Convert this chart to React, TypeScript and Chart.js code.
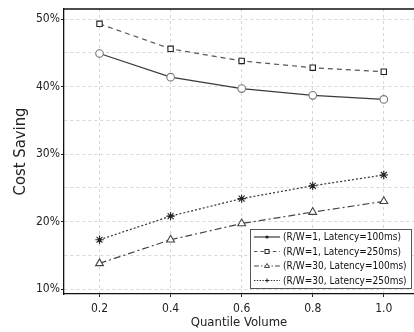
import React, { useEffect, useRef } from "react";
import { Chart, registerables } from "chart.js";

Chart.register(...registerables);

const xValues = [0.2, 0.4, 0.6, 0.8, 1.0];
const seriesLabels = [
  "(R/W=1, Latency=100ms)",
  "(R/W=1, Latency=250ms)",
  "(R/W=30, Latency=100ms)",
  "(R/W=30, Latency=250ms)",
];
const rw1Lat100 = [44.9, 41.4, 39.7, 38.7, 38.1];
const rw1Lat250 = [49.3, 45.6, 43.8, 42.8, 42.2];
const rw30Lat100 = [13.8, 17.3, 19.7, 21.4, 23.0];
const rw30Lat250 = [17.3, 20.8, 23.4, 25.3, 26.9];
const yTickValues = [10, 20, 30, 40, 50];

const FONT = "'DejaVu Sans Condensed', 'DejaVu Sans', sans-serif";

const styles = [
  { color: "#3a3a3a", dash: [] as number[], point: "circle", pColor: "#777", r: 3.8 },
  { color: "#555555", dash: [5, 4], point: "rect", pColor: "#222", r: 3.8 },
  { color: "#444444", dash: [7, 3, 2, 3], point: "triangle", pColor: "#444", r: 4.5 },
  { color: "#333333", dash: [2, 2], point: "star", pColor: "#222", r: 4.2 },
];

const frameAndLegend = {
  id: "frameAndLegend",
  afterDraw(chart: any) {
    const ctx = chart.ctx;
    const a = chart.chartArea;
    ctx.save();
    ctx.strokeStyle = "#111";
    ctx.lineWidth = 1.3;
    ctx.beginPath();
    ctx.moveTo(a.left, a.top);
    ctx.lineTo(a.right, a.top);
    ctx.stroke();

    // legend
    const boxL = 250, boxR = 411, boxT = 229, rowH = 14.5;
    const boxB = boxT + rowH * 4 + 1;
    ctx.fillStyle = "#fff";
    ctx.fillRect(boxL, boxT, boxR - boxL, boxB - boxT);
    ctx.strokeStyle = "#555";
    ctx.lineWidth = 1;
    ctx.strokeRect(boxL + 0.5, boxT + 0.5, boxR - boxL, boxB - boxT);
    chart.data.datasets.forEach((ds: any, i: number) => {
      const y = boxT + 8 + i * rowH;
      const st = styles[i];
      ctx.strokeStyle = st.color;
      ctx.lineWidth = 1.2;
      ctx.setLineDash(st.dash.length ? st.dash.map((d: number) => Math.max(1, d * 0.7)) : []);
      ctx.beginPath();
      ctx.moveTo(254, y);
      ctx.lineTo(280, y);
      ctx.stroke();
      ctx.setLineDash([]);
      ctx.fillStyle = "#fff";
      ctx.strokeStyle = st.pColor;
      ctx.lineWidth = 1;
      const cx = 267;
      if (st.point === "circle") {
        ctx.fillStyle = "#222";
        ctx.beginPath();
        ctx.arc(cx, y, 1.6, 0, Math.PI * 2);
        ctx.fill();
      } else if (st.point === "rect") {
        ctx.fillRect(cx - 2, y - 2, 4, 4);
        ctx.strokeRect(cx - 2, y - 2, 4, 4);
      } else if (st.point === "triangle") {
        ctx.beginPath();
        ctx.moveTo(cx, y - 2.5);
        ctx.lineTo(cx + 2.5, y + 1.5);
        ctx.lineTo(cx - 2.5, y + 1.5);
        ctx.closePath();
        ctx.fill();
        ctx.stroke();
      } else {
        ctx.beginPath();
        ctx.moveTo(cx - 2, y);
        ctx.lineTo(cx + 2, y);
        ctx.moveTo(cx, y - 2);
        ctx.lineTo(cx, y + 2);
        ctx.stroke();
      }
      ctx.fillStyle = "#111";
      ctx.font = "10px " + FONT;
      ctx.textBaseline = "middle";
      ctx.textAlign = "left";
      ctx.fillText(ds.label, 283, y + 0.5);
    });
    ctx.restore();
  },
};

export default function App() {
  const ref = useRef<HTMLCanvasElement | null>(null);
  useEffect(() => {
    document.body.style.margin = "0";
    const seriesData = [rw1Lat100, rw1Lat250, rw30Lat100, rw30Lat250];
    const chart = new Chart(ref.current as HTMLCanvasElement, {
      type: "line",
      data: {
        datasets: seriesData.map((vals, i) => ({
          label: seriesLabels[i],
          data: vals.map((v, j) => ({ x: xValues[j], y: v })),
          borderColor: styles[i].color,
          borderWidth: 1.2,
          borderDash: styles[i].dash,
          pointStyle: styles[i].point as any,
          pointRadius: styles[i].r,
          pointBorderColor: styles[i].pColor,
          pointBackgroundColor: "#fff",
          pointBorderWidth: 1.1,
          fill: false,
          tension: 0,
        })),
      },
      options: {
        animation: false,
        responsive: false,
        maintainAspectRatio: false,
        layout: { autoPadding: false, padding: { top: 9, right: 0, left: 0, bottom: 0 } },
        plugins: { legend: { display: false }, tooltip: { enabled: false } },
        scales: {
          x: {
            type: "linear",
            min: 0.1,
            max: 1.085,
            afterBuildTicks: (axis: any) => {
              axis.ticks = xValues.map((v) => ({ value: v }));
            },
            afterFit: (axis: any) => {
              axis.height = 38;
              axis.paddingLeft = 0;
              axis.paddingRight = 0;
            },
            ticks: {
              callback: (v: any) => Number(v).toFixed(1),
              font: { family: FONT, size: 12 },
              color: "#222",
              padding: 5,
              maxRotation: 0,
            },
            grid: {
              color: "#d8d8d8",
              tickLength: 3,
              tickColor: "#222",
              drawTicks: true,
            },
            border: { color: "#111", width: 1.3, dash: [3, 3] as any },
            title: {
              display: true,
              text: "Quantile Volume",
              font: { family: FONT, size: 13 },
              color: "#222",
              padding: { top: 0, bottom: 2 },
            },
          },
          y: {
            type: "linear",
            min: 9.26,
            max: 51.5,
            afterBuildTicks: (axis: any) => {
              const t: any[] = [];
              for (let v = 10; v <= 50; v += 5) t.push({ value: v });
              axis.ticks = t;
            },
            afterFit: (axis: any) => {
              axis.width = 64;
              axis.paddingTop = 0;
              axis.paddingBottom = 0;
            },
            ticks: {
              callback: (v: any) => (yTickValues.includes(Number(v)) ? v + "%" : ""),
              font: { family: FONT, size: 12 },
              color: "#222",
              padding: 1,
            },
            grid: {
              color: "#d8d8d8",
              tickLength: 3,
              tickColor: (c: any) => (c.tick && c.tick.value % 10 === 0 ? "#222" : "transparent"),
            },
            border: { color: "#111", width: 1.3, dash: [3, 3] as any },
            title: {
              display: true,
              text: "Cost Saving",
              font: { family: FONT, size: 16.5 },
              color: "#222",
              padding: { top: 11, bottom: 0 },
            },
          },
        },
      },
      plugins: [frameAndLegend],
    });
    return () => chart.destroy();
  }, []);
  return (
    <div style={{ position: "absolute", left: 0, top: 0, width: 414, height: 332 }}>
      <canvas ref={ref} width={414} height={332} style={{ width: 414, height: 332 }} />
    </div>
  );
}
